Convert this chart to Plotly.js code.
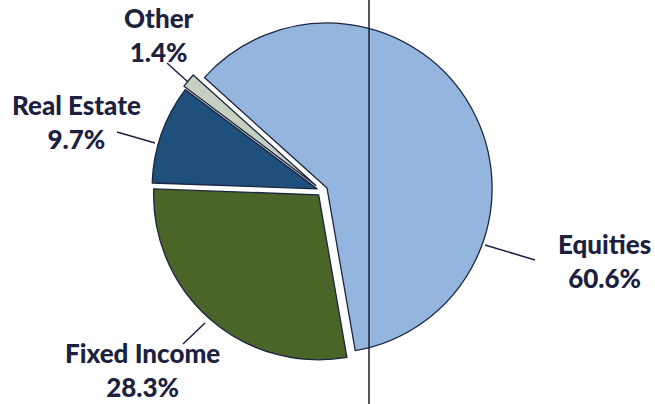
<!DOCTYPE html>
<html>
<head>
<meta charset="utf-8">
<script src="https://cdn.plot.ly/plotly-3.0.1.min.js"></script>
<style>html,body{margin:0;padding:0;background:#fff;}#chart{width:655px;height:404px;}</style>
</head>
<body>
<div id="chart"></div>
<script>
// Data
const categories = ["Equities", "Fixed Income", "Real Estate", "Other"];
const shares = [60.6, 28.3, 9.7, 1.4];
const sliceColors = ["#94b6de", "#4b6428", "#1f4f7b", "#c6d0c0"];
const pulls = [0.033, 0.033, 0.033, 0.05];

// Label placement: pixel centres of the two-line labels
const W = 655, H = 404;
const labelPos = {
  "Equities": [604, 261],
  "Fixed Income": [142, 370],
  "Real Estate": [76, 122],
  "Other": [159, 35]
};
const leaders = {
  "Equities": [[485, 245], [535, 260]],
  "Fixed Income": [[183, 344], [205, 323]],
  "Real Estate": [[117, 132], [155, 143]],
  "Other": [[167, 63], [188, 82]]
};

const px = x => x / W;
const py = y => 1 - y / H;

const trace = {
  type: "pie",
  labels: categories,
  values: shares,
  sort: false,
  direction: "clockwise",
  rotation: -48,
  pull: pulls,
  textinfo: "none",
  hoverinfo: "label+percent",
  marker: { colors: sliceColors, line: { color: "#1b2540", width: 1.3 } },
  domain: { x: [0.192, 0.792], y: [0.099, 0.957] },
  showlegend: false
};

const labelFont = { family: "Lato, 'Liberation Sans', sans-serif", size: 26, color: "#1c2140", weight: 900 };
const annotations = categories.map((c, i) => ({
  xref: "paper", yref: "paper",
  x: px(labelPos[c][0]), y: py(labelPos[c][1]),
  xanchor: "center", yanchor: "middle",
  showarrow: false,
  align: "center",
  borderpad: 0,
  text: c + "<br>" + shares[i].toFixed(1) + "%",
  font: labelFont
}));

const shapes = categories.map(c => ({
  type: "line", xref: "paper", yref: "paper",
  x0: px(leaders[c][0][0]), y0: py(leaders[c][0][1]),
  x1: px(leaders[c][1][0]), y1: py(leaders[c][1][1]),
  line: { color: "#1c2140", width: 1.5 }
}));
// scanned page fold line
shapes.push({
  type: "line", xref: "paper", yref: "paper",
  x0: px(369), y0: 0, x1: px(369), y1: 1,
  line: { color: "#1a1f35", width: 1.5 }
});

const layout = {
  width: W, height: H,
  margin: { l: 0, r: 0, t: 0, b: 0 },
  paper_bgcolor: "#ffffff",
  plot_bgcolor: "#ffffff",
  annotations: annotations,
  shapes: shapes
};

Plotly.newPlot("chart", [trace], layout, { staticPlot: true });
</script>
</body>
</html>
